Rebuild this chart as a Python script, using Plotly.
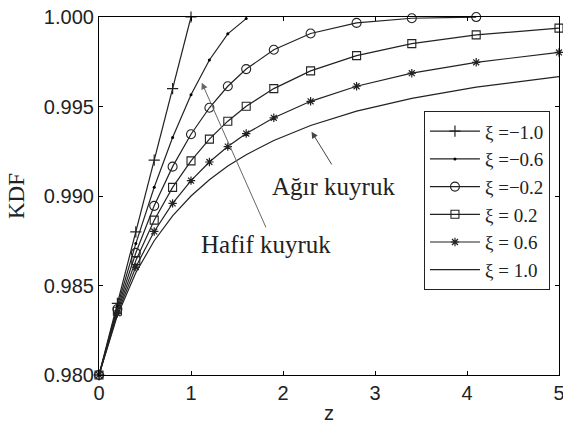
import plotly.graph_objects as go

# Evaluation points along z
z = [0, 0.2, 0.4, 0.6, 0.8, 1.0, 1.2, 1.4, 1.6, 1.9, 2.3, 2.8, 3.4, 4.1, 5.0]

# CDF values for each shape parameter (curves that saturate at 1 stop there)
kdf_m10 = [0.980, 0.984, 0.988, 0.992, 0.996, 1.000]
kdf_m06 = [0.980, 0.98384, 0.98734, 0.99049, 0.99327, 0.99566, 0.99760, 0.99906, 0.99991]
kdf_m02 = [0.980, 0.98369, 0.98682, 0.98945, 0.99164, 0.99345, 0.99493, 0.99613, 0.99709, 0.99817, 0.99908, 0.99967, 0.99993, 0.999996]
kdf_p02 = [0.980, 0.98356, 0.98639, 0.98865, 0.99048, 0.99196, 0.99318, 0.99418, 0.99501, 0.99600, 0.99699, 0.99784, 0.99851, 0.99900, 0.99938]
kdf_p06 = [0.980, 0.98344, 0.98603, 0.98802, 0.98959, 0.99086, 0.99190, 0.99276, 0.99349, 0.99437, 0.99529, 0.99613, 0.99686, 0.99747, 0.99802]
kdf_p10 = [0.980, 0.98333, 0.98571, 0.98750, 0.98889, 0.99000, 0.99091, 0.99167, 0.99231, 0.99310, 0.99394, 0.99474, 0.99545, 0.99608, 0.99667]

names = ["ξ =\u22121.0", "ξ =\u22120.6", "ξ =\u22120.2", "ξ = 0.2", "ξ = 0.6", "ξ = 1.0"]
series = [kdf_m10, kdf_m06, kdf_m02, kdf_p02, kdf_p06, kdf_p10]

x_ticks = [0, 1, 2, 3, 4, 5]
y_ticks = [0.980, 0.985, 0.990, 0.995, 1.000]
y_ticklabels = ["0.980", "0.985", "0.990", "0.995", "1.000"]

styles = [
    dict(mode="lines+markers", marker=dict(symbol="cross-thin-open", size=8, line=dict(width=1.2, color="black"))),
    dict(mode="lines+markers", marker=dict(symbol="circle", size=3, color="black")),
    dict(mode="lines+markers", marker=dict(symbol="circle-open", size=9, color="#222", line=dict(width=1.1))),
    dict(mode="lines+markers", marker=dict(symbol="square-open", size=8, color="#222", line=dict(width=1.1))),
    dict(mode="lines+markers", marker=dict(symbol="asterisk-open", size=7, line=dict(width=1.2, color="black"))),
    dict(mode="lines"),
]

fig = go.Figure()
for name, ys, st in zip(names, series, styles):
    fig.add_trace(go.Scatter(
        x=z[:len(ys)], y=ys, name=name,
        line=dict(color="#222", width=1.2),
        cliponaxis=False,
        **st,
    ))

serif = "Liberation Serif, Times New Roman, serif"
sans = "Liberation Sans, Arial, sans-serif"

axis_common = dict(
    showline=True, linecolor="black", linewidth=1.2, mirror="ticks",
    ticks="inside", ticklen=4, tickcolor="black",
    showgrid=False, zeroline=False, automargin=False,
    ticklabeloverflow="allow",
    tickfont=dict(family=sans, size=20, color="#222"),
)

fig.update_layout(
    width=563, height=424,
    margin=dict(l=99, r=4, t=17, b=49),
    paper_bgcolor="white", plot_bgcolor="white",
    xaxis=dict(range=[0, 5], tickvals=x_ticks,
               title=dict(text="z", font=dict(family=sans, size=20, color="#222"), standoff=2),
               **axis_common),
    yaxis=dict(range=[0.98, 1.0], tickvals=y_ticks, ticktext=y_ticklabels,
               title=dict(text="KDF", font=dict(family=serif, size=23, color="#222"), standoff=12),
               **axis_common),
    legend=dict(
        x=0.706, y=0.737, xanchor="left", yanchor="top",
        bordercolor="#222", borderwidth=1.2, bgcolor="white",
        font=dict(family=serif, size=19, color="#222"),
        tracegroupgap=0, itemwidth=50,
    ),
    showlegend=True,
)

# Labelled arrows pointing to the heavy and light tail curves
fig.add_annotation(x=2.31, y=0.99359, ax=2.54, ay=0.99168, xref="x", yref="y", axref="x", ayref="y",
                   showarrow=True, arrowhead=2, arrowsize=1.3, arrowwidth=1, arrowcolor="#444", text="")
fig.add_annotation(x=2.55, y=0.99051, text="Ağır kuyruk", showarrow=False,
                   font=dict(family=serif, size=25, color="#222"))
fig.add_annotation(x=1.117, y=0.99633, ax=1.822, ay=0.98816, xref="x", yref="y", axref="x", ayref="y",
                   showarrow=True, arrowhead=2, arrowsize=1.3, arrowwidth=1, arrowcolor="#666", text="")
fig.add_annotation(x=1.82, y=0.98727, text="Hafif kuyruk", showarrow=False,
                   font=dict(family=serif, size=25, color="#222"))

fig.write_html("out.html")
